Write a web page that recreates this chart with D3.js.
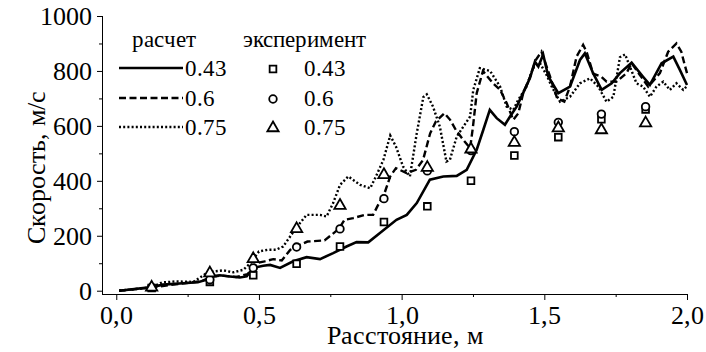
<!DOCTYPE html>
<html><head><meta charset="utf-8"><script src="https://cdn.jsdelivr.net/npm/d3@7"></script>
<style>
@font-face { font-family: 'ChartSerif'; src: local('Liberation Serif'), local('LiberationSerif'), local('LiberationSerif-Regular'), local('Times New Roman'); }
svg text { font-family: 'ChartSerif', 'Liberation Serif', 'Times New Roman', serif; }
</style>
</head>
<body style="margin:0">
<script>
// calculated curves [distance, velocity]
var calc043 = [[0.01,0],[0.124,13],[0.164,22],[0.247,28],[0.286,31],[0.317,40],[0.328,52],[0.363,56],[0.398,52],[0.433,48],[0.457,52],[0.48,83],[0.515,91],[0.539,94],[0.574,83],[0.62,107],[0.667,122],[0.714,115],[0.76,137],[0.807,161],[0.842,177],[0.883,176],[0.924,210],[0.982,258],[1.018,276],[1.053,319],[1.099,404],[1.146,416],[1.193,418],[1.228,440],[1.263,513],[1.286,585],[1.309,658],[1.333,628],[1.362,604],[1.38,634],[1.403,670],[1.426,720],[1.45,775],[1.467,834],[1.479,816],[1.496,860],[1.514,780],[1.549,719],[1.59,743],[1.625,840],[1.642,864],[1.671,792],[1.701,731],[1.736,755],[1.765,792],[1.806,830],[1.846,779],[1.87,749],[1.911,828],[1.952,852],[1.975,804],[2.0,749]];
var calc06 = [[0.01,0],[0.124,12],[0.2,22],[0.3,35],[0.33,50],[0.37,55],[0.42,50],[0.46,60],[0.49,100],[0.52,107],[0.55,115],[0.58,110],[0.61,149],[0.63,161],[0.67,179],[0.73,183],[0.78,225],[0.8,258],[0.83,264],[0.87,276],[0.9,276],[0.915,307],[0.94,355],[0.96,416],[0.98,446],[1.018,428],[1.05,440],[1.075,476],[1.1,573],[1.12,616],[1.15,646],[1.17,622],[1.19,585],[1.216,549],[1.24,519],[1.25,597],[1.263,719],[1.285,800],[1.32,755],[1.345,731],[1.368,683],[1.391,622],[1.409,646],[1.426,719],[1.45,779],[1.47,840],[1.49,870],[1.52,780],[1.545,700],[1.57,688],[1.59,743],[1.613,852],[1.636,895],[1.648,870],[1.671,790],[1.7,779],[1.718,761],[1.753,761],[1.788,792],[1.806,828],[1.835,785],[1.864,743],[1.905,792],[1.934,870],[1.963,900],[1.98,870],[1.99,830],[2.0,792]];
var calc075 = [[0.01,0],[0.124,12],[0.16,30],[0.21,34],[0.27,32],[0.317,64],[0.34,70],[0.375,74],[0.41,67],[0.445,76],[0.47,100],[0.5,143],[0.53,149],[0.56,149],[0.585,161],[0.63,228],[0.667,276],[0.714,276],[0.737,270],[0.76,319],[0.784,385],[0.813,416],[0.855,385],[0.89,373],[0.91,416],[0.936,476],[0.96,565],[0.98,525],[1.005,452],[1.029,416],[1.053,573],[1.076,705],[1.088,715],[1.11,670],[1.134,597],[1.157,470],[1.169,476],[1.193,561],[1.216,597],[1.24,634],[1.251,731],[1.274,810],[1.31,800],[1.345,743],[1.368,670],[1.391,658],[1.408,694],[1.438,743],[1.46,810],[1.485,828],[1.508,785],[1.526,743],[1.555,688],[1.59,706],[1.625,755],[1.66,773],[1.689,743],[1.718,688],[1.742,706],[1.765,850],[1.783,860],[1.8,816],[1.823,755],[1.846,743],[1.87,706],[1.893,743],[1.917,761],[1.94,731],[1.963,755],[1.987,731],[2.0,745]];

// experiment
var expX = [0.124,0.328,0.48,0.632,0.784,0.938,1.09,1.243,1.395,1.549,1.70,1.855];
var exp043 = [10,32,56,98,161,250,307,400,492,559,624,660];
var exp06 = [12,40,83,159,225,335,436,510,579,613,643,670];
var exp075 = [12,64,116,225,310,422,448,515,539,592,585,610];

var seriesNames = ["0.43","0.6","0.75"];
var xTicks = [0,0.5,1.0,1.5,2.0];
var yTicks = [0,200,400,600,800,1000];

var width = 706, height = 352;
var svg = d3.select("body").append("svg").attr("width", width).attr("height", height);

var x = d3.scaleLinear().domain([-0.05, 2.0]).range([102, 687]);
var y = d3.scaleLinear().domain([-12, 1000]).range([294, 16]);

// axes
var yAxis = d3.axisLeft(y).tickValues(yTicks).tickSize(5).tickPadding(5).tickFormat(d3.format("d"));
var yMinor = d3.axisLeft(y).tickValues(d3.range(100, 1000, 200)).tickSize(3).tickFormat("");
var xAxis = d3.axisBottom(x).tickValues(xTicks).tickSize(6).tickPadding(6).tickFormat(function(d){ return d.toFixed(1).replace(".", ","); });
var xMinor = d3.axisBottom(x).tickValues([0.25,0.75,1.25,1.75]).tickSize(3).tickFormat("");

function styleAxis(g){
	g.attr("font-family", null).attr("font-size", null);
	g.select(".domain").remove();
	g.selectAll("line").attr("stroke","#000").attr("stroke-width",1);
	g.selectAll("text").style("font-size","26px").attr("fill","#000");
}

svg.append("g").attr("transform","translate(102,0)").call(yAxis).call(styleAxis);
svg.append("g").attr("transform","translate(102,0)").call(yMinor).call(styleAxis);
svg.append("g").attr("transform","translate(0,294)").call(xAxis).call(styleAxis);
svg.append("g").attr("transform","translate(0,294)").call(xMinor).call(styleAxis);

svg.append("line").attr("x1",102.5).attr("x2",102.5).attr("y1",16).attr("y2",294).attr("stroke","#000");
svg.append("line").attr("x1",102).attr("x2",687).attr("y1",294.5).attr("y2",294.5).attr("stroke","#000");

// titles
svg.append("text").attr("transform","translate(45,167) rotate(-90)").attr("text-anchor","middle")
	.style("font-size","26px").text("Скорость, м/с");
svg.append("text").attr("x",405).attr("y",344).attr("text-anchor","middle")
	.style("font-size","26px").text("Расстояние, м");

// curves
var dashes = [null, "7,3.5", "2,2.2"];
var line = d3.line().x(function(d){ return x(d[0]); }).y(function(d){ return y(d[1]); });
var plot = svg.append("g");
[calc043, calc06, calc075].forEach(function(s, i){
	plot.append("path").datum(s).attr("d", line)
		.attr("fill","none").attr("stroke","#000").attr("stroke-width", i==0 ? 2.6 : 2.4)
		.attr("stroke-dasharray", dashes[i]);
});

// markers
var sym = [d3.symbolSquare, d3.symbolCircle, d3.symbolTriangle];
var symSize = [45, 45, 55];
[exp043, exp06, exp075].forEach(function(s, i){
	plot.selectAll(".m"+i).data(s).enter().append("path").attr("class","m"+i)
		.attr("transform", function(d, j){ return "translate(" + x(expX[j]) + "," + y(d) + ")"; })
		.attr("d", d3.symbol().type(sym[i]).size(symSize[i]))
		.attr("fill","#fff").attr("stroke","#000").attr("stroke-width",1.8);
});

// legend
var leg = svg.append("g");
function legText(tx, ty, s){
	leg.append("text").attr("x",tx).attr("y",ty).style("font-size","23px").text(s);
}
legText(132, 47, "расчет");
legText(243, 47, "эксперимент");
var rowY = [68, 98, 127];
seriesNames.forEach(function(n, i){
	leg.append("line").attr("x1",119).attr("x2",183).attr("y1",rowY[i]).attr("y2",rowY[i])
		.attr("stroke","#000").attr("stroke-width", i==0 ? 2.6 : 2.4).attr("stroke-dasharray", dashes[i]);
	legText(185, rowY[i]+7.5, n);
	leg.append("path").attr("transform","translate(273," + (rowY[i]+1) + ")")
		.attr("d", d3.symbol().type(sym[i]).size(symSize[i]))
		.attr("fill","#fff").attr("stroke","#000").attr("stroke-width",1.8);
	legText(304, rowY[i]+7.5, n);
});
</script>
</body>
</html>
